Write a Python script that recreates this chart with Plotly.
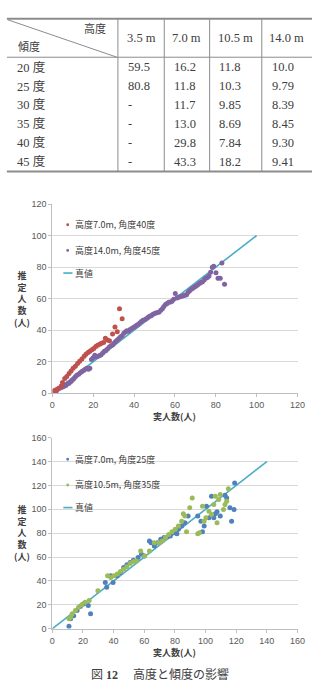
import plotly.graph_objects as go

W, H = 320, 687

# ---------------- table data ----------------
table_heights = ["3.5 m", "7.0 m", "10.5 m", "14.0 m"]
table_tilts = ["20 度", "25 度", "30 度", "35 度", "40 度", "45 度"]
table_values = [
    ["59.5", "16.2", "11.8", "10.0"],
    ["80.8", "11.8", "10.3", "9.79"],
    ["-", "11.7", "9.85", "8.39"],
    ["-", "13.0", "8.69", "8.45"],
    ["-", "29.8", "7.84", "9.30"],
    ["-", "43.3", "18.2", "9.41"],
]

# ---------------- chart 1 data ----------------
name_red = "高度7.0m, 角度40度"
red_x = [1.1, 1.9, 3.0, 4.3, 5.0, 6.1, 7.1, 8.2, 9.2, 10.2, 11.3, 12.4, 13.4, 14.5, 15.6, 16.5,
         17.5, 18.4, 19.4, 20.3, 21.3, 22.2, 23.2, 24.1, 25.1, 26.0, 27.0, 28.0, 29.5, 30.7,
         31.8, 32.9, 34.2]
red_y = [1.7, 2.3, 3.1, 4.4, 6.9, 9.3, 10.6, 12.5, 14.1, 15.8, 17.2, 18.9, 20.3, 21.8, 23.4, 24.7,
         25.9, 26.6, 27.6, 28.4, 29.7, 30.5, 31.1, 31.8, 32.2, 34.9, 33.8, 33.3, 37.6, 42.1,
         39.0, 53.6, 47.3]

name_purple = "高度14.0m, 角度45度"
purple_pts = [
    (2.0, 1.5), (2.7, 2.5), (3.5, 3.2), (4.3, 3.6), (5.0, 3.9), (5.8, 4.4), (6.6, 5.0), (7.4, 5.8),
    (8.2, 6.4), (9.0, 7.3), (9.8, 8.2), (10.6, 9.3), (11.3, 10.4), (12.0, 11.4), (12.9, 12.1),
    (13.7, 13.0), (14.5, 13.8), (15.3, 14.5), (16.1, 15.3), (16.9, 15.8), (17.7, 15.2), (18.4, 15.8),
    (19.2, 21.4), (20.0, 22.6), (20.8, 24.1), (21.6, 23.2), (22.4, 23.5), (23.2, 24.0), (23.9, 24.5),
    (24.7, 25.6), (25.5, 26.6), (26.3, 27.2), (27.0, 28.0), (27.9, 29.3), (28.7, 30.1), (29.5, 30.6),
    (30.2, 31.8), (31.0, 32.9), (31.8, 33.8), (32.6, 34.7), (33.4, 35.9), (34.2, 36.4), (35.0, 38.0),
    (35.8, 38.9), (36.5, 39.7), (37.3, 39.4), (38.1, 40.5), (38.9, 41.0), (39.7, 41.7), (40.5, 42.3),
    (41.3, 43.2), (42.0, 43.6), (42.8, 44.6), (43.6, 45.5), (44.4, 46.3), (45.2, 46.6), (46.0, 47.3),
    (46.8, 48.1), (47.6, 48.8), (48.4, 49.2), (49.1, 50.0), (50.0, 50.6), (50.7, 50.9), (51.5, 51.2),
    (52.3, 51.5), (53.1, 52.6), (53.9, 53.6), (54.6, 55.1), (55.4, 56.3), (56.2, 57.0), (57.0, 57.7),
    (57.8, 57.9), (58.6, 58.3), (59.4, 59.6), (60.2, 63.3), (61.0, 60.4), (61.7, 60.9), (62.5, 61.2),
    (63.3, 61.6), (64.1, 61.9), (64.9, 62.2), (65.7, 62.5), (66.5, 64.0), (67.2, 65.0), (68.0, 65.9),
    (68.8, 66.6), (69.6, 67.4), (70.4, 68.1), (71.2, 68.8), (72.0, 69.6), (72.7, 70.2), (73.5, 70.8),
    (74.3, 71.9), (75.1, 72.9), (75.9, 73.5), (76.7, 74.4), (77.5, 76.8), (78.3, 79.9), (79.0, 80.5),
    (80.1, 76.4), (81.1, 72.9), (82.2, 72.9), (83.0, 82.6), (84.3, 69.1),
]
purple_x = [p[0] for p in purple_pts]
purple_y = [p[1] for p in purple_pts]

name_true = "真値"
true1_x = [0, 100]
true1_y = [0, 100]

# ---------------- chart 2 data ----------------
name_blue = "高度7.0m, 角度25度"
blue_pts = [
    (10.9, 2.2), (12.0, 8.3), (14.0, 11.0), (16.2, 15.3), (18.3, 18.6), (20.4, 20.8), (23.5, 19.4),
    (25.0, 12.5), (34.6, 38.8), (35.5, 34.7), (38.2, 44.4), (39.7, 38.8), (42.4, 44.4), (44.5, 47.1),
    (46.6, 51.3), (48.7, 53.5), (50.8, 55.5), (52.9, 57.4), (56.0, 59.6), (58.2, 62.4), (60.2, 61.0),
    (63.4, 73.5), (64.5, 72.1), (66.6, 69.3), (68.7, 72.1), (70.8, 74.9), (72.9, 76.3), (75.0, 76.8),
    (77.0, 77.6), (79.2, 80.4), (81.3, 79.6), (82.3, 83.2), (84.4, 86.0), (86.5, 88.7), (88.6, 94.3),
    (94.9, 94.3), (97.0, 90.1), (98.0, 81.2), (99.1, 86.0), (100.6, 102.6), (102.2, 92.9),
    (103.9, 110.9), (105.4, 92.9), (106.4, 96.2), (107.5, 97.9), (109.6, 94.3), (112.7, 111.7),
    (113.8, 109.5), (115.9, 101.2), (117.0, 90.1), (118.6, 99.8), (119.0, 122.0),
]
blue_x = [p[0] for p in blue_pts]
blue_y = [p[1] for p in blue_pts]

name_green = "高度10.5m, 角度35度"
green_pts = [
    (10.9, 8.3), (12.0, 9.6), (13.0, 12.5), (15.1, 15.3), (17.2, 18.0), (19.3, 20.2), (21.4, 22.2),
    (24.1, 23.6), (29.8, 31.9), (36.1, 44.4), (38.2, 43.0), (40.3, 44.4), (42.4, 45.8), (44.5, 48.0),
    (46.6, 49.9), (48.7, 51.9), (50.8, 54.6), (52.9, 56.3), (55.0, 56.8), (57.7, 65.2), (60.2, 61.0),
    (63.4, 65.2), (66.6, 72.1), (69.7, 72.1), (71.8, 73.5), (73.9, 76.3), (76.0, 79.0), (78.1, 81.2),
    (80.2, 83.2), (82.3, 86.0), (84.4, 90.1), (85.5, 96.2), (86.5, 94.3), (87.6, 81.2), (89.7, 101.2),
    (91.3, 109.5), (94.9, 79.6), (96.0, 80.4), (98.0, 102.6), (99.1, 90.1), (100.2, 92.9),
    (102.2, 98.4), (103.9, 95.6), (105.4, 104.0), (106.4, 110.9), (107.5, 88.7), (108.6, 108.2),
    (109.6, 112.3), (111.7, 99.8), (112.7, 104.0), (113.8, 106.8), (114.9, 117.3),
]
green_x = [p[0] for p in green_pts]
green_y = [p[1] for p in green_pts]

true2_x = [0, 140]
true2_y = [0, 140]

x_title = "実人数(人)"
y_title = "推<br>定<br>人<br>数<br>(人)"
caption = "図 <b>12</b>　 高度と傾度の影響"

# ---------------- styles ----------------
C_RED, C_PURPLE, C_BLUE, C_GREEN, C_LINE = "#C0504D", "#8064A2", "#4F81BD", "#9BBB59", "#4BACC6"
TICK_FONT = dict(family="Liberation Sans, Noto Sans CJK JP", size=9, color="#595959")
LEG_FONT = dict(family="Noto Sans CJK JP", size=9, color="#404040")
TAB_FONT = dict(family="Liberation Serif, Noto Sans CJK JP", size=12.5, color="#404040")


def px(x):
    return x / W


def py(y):
    return 1 - y / H


fig = go.Figure()

# chart 1 traces
fig.add_trace(go.Scatter(x=true1_x, y=true1_y, mode="lines", name=name_true,
                         line=dict(color=C_LINE, width=1.6), xaxis="x", yaxis="y", showlegend=False))
fig.add_trace(go.Scatter(x=purple_x, y=purple_y, mode="markers", name=name_purple,
                         marker=dict(color=C_PURPLE, size=5), xaxis="x", yaxis="y", showlegend=False))
fig.add_trace(go.Scatter(x=red_x, y=red_y, mode="markers", name=name_red,
                         marker=dict(color=C_RED, size=5), xaxis="x", yaxis="y", showlegend=False))

# chart 2 traces
fig.add_trace(go.Scatter(x=true2_x, y=true2_y, mode="lines", name=name_true,
                         line=dict(color=C_LINE, width=1.6), xaxis="x2", yaxis="y2", showlegend=False))
fig.add_trace(go.Scatter(x=blue_x, y=blue_y, mode="markers", name=name_blue,
                         marker=dict(color=C_BLUE, size=5), xaxis="x2", yaxis="y2", showlegend=False))
fig.add_trace(go.Scatter(x=green_x, y=green_y, mode="markers", name=name_green,
                         marker=dict(color=C_GREEN, size=5), xaxis="x2", yaxis="y2", showlegend=False))

axis_common = dict(showline=True, linecolor="#BFBFBF", linewidth=1, ticks="outside", ticklen=3,
                   tickcolor="#BFBFBF", tickfont=TICK_FONT, zeroline=False, dtick=20, fixedrange=True)

fig.update_layout(
    width=W, height=H, margin=dict(l=0, r=0, t=0, b=0),
    paper_bgcolor="white", plot_bgcolor="white",
    xaxis=dict(domain=[px(51), px(305)], range=[0, 120], anchor="y", showgrid=False, **axis_common),
    yaxis=dict(domain=[py(394), py(202)], range=[0, 120], anchor="x", showgrid=True,
               gridcolor="#D9D9D9", **axis_common),
    xaxis2=dict(domain=[px(51), px(305)], range=[0, 160], anchor="y2", showgrid=False, **axis_common),
    yaxis2=dict(domain=[py(633), py(439)], range=[0, 160], anchor="x2", showgrid=True,
                gridcolor="#D9D9D9", **axis_common),
    showlegend=False,
)

shapes = []
annotations = []

# ---------------- table ----------------
col_lines = [119, 167, 214, 268]
row_y0, row_dy = 63, 19.2
LINE_C = "#8C8C8C"
shapes.append(dict(type="line", xref="paper", yref="paper", x0=px(4), x1=px(320), y0=py(14), y1=py(14),
                   line=dict(color=LINE_C, width=2)))
shapes.append(dict(type="line", xref="paper", yref="paper", x0=px(4), x1=px(320), y0=py(53), y1=py(53),
                   line=dict(color=LINE_C, width=1)))
shapes.append(dict(type="line", xref="paper", yref="paper", x0=px(4), x1=px(320), y0=py(169), y1=py(169),
                   line=dict(color=LINE_C, width=2)))
for cx in col_lines:
    shapes.append(dict(type="line", xref="paper", yref="paper", x0=px(cx), x1=px(cx), y0=py(14), y1=py(169),
                       line=dict(color=LINE_C, width=1)))
shapes.append(dict(type="line", xref="paper", yref="paper", x0=px(5), x1=px(118), y0=py(15), y1=py(53),
                   line=dict(color=LINE_C, width=1)))

annotations.append(dict(text="高度", x=px(109), y=py(24), xref="paper", yref="paper", xanchor="right",
                        yanchor="middle", showarrow=False, font=dict(TAB_FONT, size=11)))
annotations.append(dict(text="傾度", x=px(13), y=py(43), xref="paper", yref="paper", xanchor="left",
                        yanchor="middle", showarrow=False, font=dict(TAB_FONT, size=11)))
col_edges = col_lines + [320]
for j, h in enumerate(table_heights):
    cx = (col_edges[j] + col_edges[j + 1]) / 2 if j < 3 else col_edges[j] + 26
    annotations.append(dict(text=h, x=px(cx), y=py(33), xref="paper", yref="paper", xanchor="center",
                            yanchor="middle", showarrow=False, font=TAB_FONT))
for i, t in enumerate(table_tilts):
    yy = row_y0 + row_dy * i
    annotations.append(dict(text=t, x=px(12), y=py(yy), xref="paper", yref="paper", xanchor="left",
                            yanchor="middle", showarrow=False, font=TAB_FONT))
    for j, v in enumerate(table_values[i]):
        annotations.append(dict(text=v, x=px(col_lines[j] + 8), y=py(yy), xref="paper", yref="paper",
                                xanchor="left", yanchor="middle", showarrow=False, font=TAB_FONT))

# ---------------- chart legends / titles ----------------
def legend(entries, top):
    ys = [top, top + 26, top + 49]
    for (kind, color, label), yy in zip(entries, ys):
        if kind == "marker":
            shapes.append(dict(type="circle", xref="paper", yref="paper", x0=px(65.5), x1=px(68.5),
                               y0=py(yy + 1.5), y1=py(yy - 1.5), fillcolor=color, line=dict(width=0)))
            tx = 72
        else:
            shapes.append(dict(type="line", xref="paper", yref="paper", x0=px(62.5), x1=px(72),
                               y0=py(yy), y1=py(yy), line=dict(color=color, width=1.6)))
            tx = 73
        annotations.append(dict(text=label, x=px(tx), y=py(yy), xref="paper", yref="paper",
                                xanchor="left", yanchor="middle", showarrow=False, font=LEG_FONT))


legend([("marker", C_RED, name_red), ("marker", C_PURPLE, name_purple), ("line", C_LINE, name_true)], 223)
legend([("marker", C_BLUE, name_blue), ("marker", C_GREEN, name_green), ("line", C_LINE, name_true)], 461)

TITLE_FONT = dict(family="Noto Sans CJK JP", size=9, color="#404040")
for yc, xt in [(298, 418), (536, 657)]:
    annotations.append(dict(text="<b>" + y_title + "</b>", x=px(20), y=py(yc), xref="paper", yref="paper",
                            xanchor="center", yanchor="middle", showarrow=False, font=TITLE_FONT))
    annotations.append(dict(text="<b>" + x_title + "</b>", x=px(178), y=py(xt), xref="paper", yref="paper",
                            xanchor="center", yanchor="middle", showarrow=False, font=TITLE_FONT))

annotations.append(dict(text=caption, x=px(163), y=py(680), xref="paper", yref="paper", xanchor="center",
                        yanchor="middle", showarrow=False,
                        font=dict(family="Liberation Serif, Noto Sans CJK JP", size=12, color="#404040")))

fig.update_layout(shapes=shapes, annotations=annotations)
fig.write_html("out.html")
